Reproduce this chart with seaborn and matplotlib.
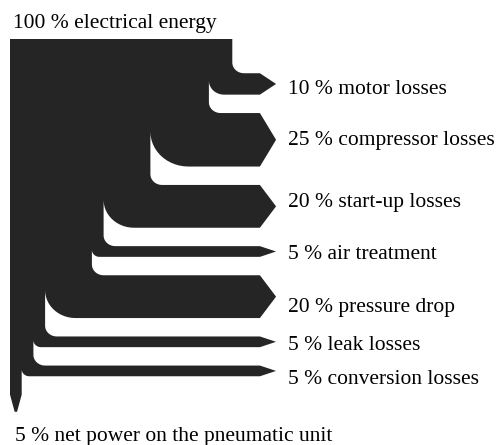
import numpy as np
import matplotlib
matplotlib.use("Agg")
import matplotlib.pyplot as plt
import seaborn as sns

# energy flow, percent of the electrical input
input_value = 100
input_label = "electrical energy"
loss_values = [10, 25, 20, 5, 20, 5, 5]
loss_labels = ["motor losses", "compressor losses", "start-up losses",
               "air treatment", "pressure drop", "leak losses",
               "conversion losses"]
net_value = 5
net_label = "net power on the pneumatic unit"

sns.set_theme(style="white")
plt.rcParams["font.serif"] = ["Liberation Serif", "DejaVu Serif"]
plt.rcParams["font.family"] = "serif"

# layout, all in percent units
first_top = 16.0      # top of the first branch below the trunk top
gap = 8.6             # white gap between branches
r_out = 5.0           # fillet on the upper edge of a branch
band_end = 106.8      # where the arrow heads start
tip_x = 113.7
label_x = 118.8
label_nudge = [1.4, -1.3, -3.4, -0.2, 3.9, 0.1, 2.8]
fill = "#252525"


def arc(cx, cy, r, a0, a1, n=14):
    t = np.radians(np.linspace(a0, a1, n))
    return list(zip(cx + r * np.cos(t), cy + r * np.sin(t)))


width = sum(loss_values) + net_value
pts = [(0, 0), (width, 0)]
right = width
top = first_top
tips = []
for w in loss_values:
    left = right - w
    bottom = top + w
    r_in = 0.65 * w
    pts += arc(right + r_out, top - r_out, r_out, 180, 90)
    pts += [(band_end, top), (tip_x, top + w / 2), (band_end, bottom)]
    pts += arc(left + r_in, bottom - r_in, r_in, 90, 180)
    tips.append(top + w / 2)
    right = left
    top = bottom + gap

y_end = top
pts += [(right, y_end), (right * 0.6, y_end + 8), (right * 0.4, y_end + 8),
        (0, y_end)]

fig = plt.figure(figsize=(5.01, 4.45), dpi=100)
ax = fig.add_axes([0, 0, 1, 1])
ax.fill(*zip(*pts), color=fill, lw=0)

fs = 15.5
ax.text(1.3, -5.1, f"{input_value} % {input_label}", fontsize=fs,
        va="baseline", ha="left", color="black")
for v, lab, ty, dy in zip(loss_values, loss_labels, tips, label_nudge):
    ax.text(label_x, ty + dy + 3.5, f"{v} % {lab}", fontsize=fs,
            va="baseline", ha="left", color="black")
ax.text(2.1, 187.9, f"{net_value} % {net_label}", fontsize=fs,
        va="baseline", ha="left", color="black")

ax.set_xlim(-10 / 2.34, (501 - 10) / 2.34)
ax.set_ylim((445 - 39) / 2.14, -39 / 2.14)
ax.axis("off")
fig.savefig("out.png", dpi=100)
